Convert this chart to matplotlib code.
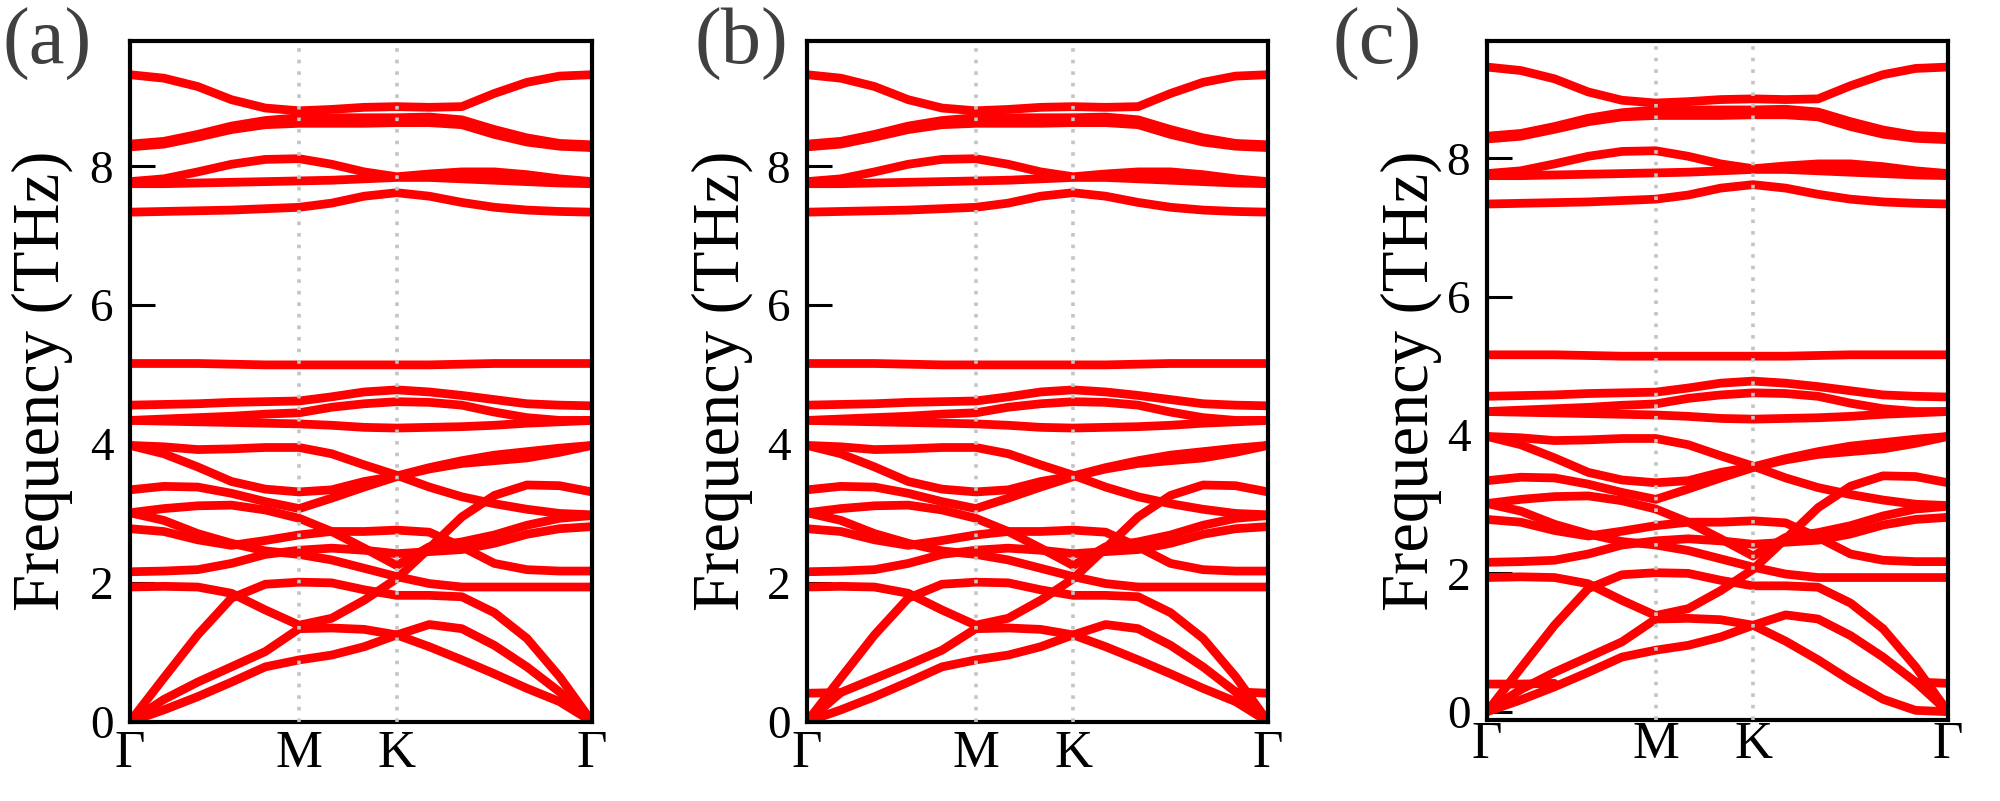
import numpy as np
import matplotlib
matplotlib.use("Agg")
import matplotlib.pyplot as plt
from matplotlib import font_manager

_avail = {f.name for f in font_manager.fontManager.ttflist}
_serif = [n for n in ['Liberation Serif', 'Nimbus Roman', 'Times New Roman', 'STIXGeneral',
                      'DejaVu Serif'] if n in _avail]
plt.rcParams['font.family'] = _serif[:1] + ['STIXGeneral', 'DejaVu Sans']
plt.rcParams['mathtext.fontset'] = 'stix'

# ---------------- high-symmetry path ----------------
k_labels = ['Γ', 'M', 'K', 'Γ']
k_nodes = [0.0, 0.5774, 0.9107, 1.5774]
seg_intervals = [5, 3, 6]          # sampling intervals on Γ-M, M-K, K-Γ
y_ticks = [0, 2, 4, 6, 8]
panel_tags = ['(a)', '(b)', '(c)']
panel_ylims = [(0, 9.81), (0, 9.81), (-0.12, 9.70)]

nan = np.nan
# each band: [Γ, 4 pts Γ-M, M, 2 pts M-K, K, 5 pts K-Γ, Γ]   (THz)
H1  = [9.32, 9.27, 9.15, 8.96, 8.84, 8.80, 8.82, 8.85, 8.86, 8.85, 8.86, 9.05, 9.21, 9.30, 9.32]
H2a = [8.32, 8.36, 8.46, 8.58, 8.66, 8.70, 8.70, 8.70, 8.70, 8.71, 8.67, 8.53, 8.41, 8.33, 8.31]
H2b = [8.28, 8.32, 8.42, 8.53, 8.60, 8.62, 8.62, 8.62, 8.63, 8.63, 8.60, 8.46, 8.35, 8.29, 8.27]
H3  = [7.78, 7.82, 7.92, 8.03, 8.10, 8.11, 8.03, 7.92, 7.85, 7.89, 7.92, 7.92, 7.88, 7.82, 7.78]
H4  = [7.75, 7.75, 7.76, 7.77, 7.78, 7.79, 7.80, 7.82, 7.84, 7.84, 7.82, 7.80, 7.78, 7.76, 7.75]
H5  = [7.34, 7.35, 7.36, 7.37, 7.39, 7.41, 7.47, 7.57, 7.62, 7.57, 7.48, 7.41, 7.37, 7.35, 7.34]
F1  = [5.16, 5.16, 5.16, 5.15, 5.14, 5.14, 5.14, 5.14, 5.14, 5.14, 5.15, 5.16, 5.16, 5.16, 5.16]
M1  = [4.56, 4.57, 4.58, 4.60, 4.61, 4.62, 4.68, 4.75, 4.78, 4.75, 4.70, 4.64, 4.58, 4.56, 4.55]
M2  = [4.34, 4.36, 4.38, 4.40, 4.43, 4.45, 4.53, 4.58, 4.61, 4.60, 4.56, 4.46, 4.38, 4.34, 4.34]
M3  = [4.34, 4.33, 4.32, 4.31, 4.30, 4.29, 4.27, 4.24, 4.23, 4.24, 4.25, 4.27, 4.30, 4.32, 4.34]
L1  = [3.98, 3.96, 3.92, 3.93, 3.95, 3.95, 3.86, 3.70, 3.55, 3.38, 3.24, 3.14, 3.06, 3.00, 2.98]
L2  = [3.98, 3.86, 3.67, 3.46, 3.35, 3.31, 3.34, 3.46, 3.54, 3.66, 3.76, 3.84, 3.89, 3.94, 3.98]
L3  = [3.34, 3.39, 3.38, 3.29, 3.17, 3.07, 3.22, 3.38, 3.53, 3.64, 3.72, 3.76, 3.80, 3.88, 3.98]
L4  = [3.01, 3.07, 3.11, 3.12, 3.05, 2.93, 2.74, 2.50, 2.25, 2.52, 2.59, 2.69, 2.83, 2.93, 2.97]
L5  = [3.01, 2.90, 2.71, 2.57, 2.46, 2.41, 2.33, 2.21, 2.09, 1.99, 1.94, 1.94, 1.94, 1.94, 1.94]
L6  = [2.78, 2.74, 2.62, 2.54, 2.61, 2.69, 2.74, 2.74, 2.76, 2.73, 2.52, 2.28, 2.19, 2.17, 2.17]
L7  = [2.16, 2.17, 2.19, 2.28, 2.41, 2.47, 2.50, 2.47, 2.42, 2.45, 2.48, 2.57, 2.70, 2.78, 2.81]
L8  = [1.94, 1.95, 1.94, 1.85, 1.61, 1.39, 1.49, 1.75, 2.06, 2.50, 2.95, 3.26, 3.41, 3.40, 3.31]
LA  = [0.00, 0.63, 1.25, 1.78, 1.98, 2.01, 2.00, 1.90, 1.82, 1.82, 1.80, 1.57, 1.20, 0.65, 0.00]
TA1 = [0.00, 0.32, 0.57, 0.79, 1.01, 1.34, 1.35, 1.33, 1.25, 1.08, 0.89, 0.69, 0.48, 0.29, 0.00]
TA2 = [0.00, 0.17, 0.36, 0.57, 0.79, 0.89, 0.96, 1.08, 1.25, 1.40, 1.34, 1.10, 0.79, 0.43, 0.00]

# panel-specific low-frequency branches
TA1_b = [0.00, 0.42, 0.62, 0.82, 1.03, 1.34, 1.35, 1.33, 1.25, 1.08, 0.89, 0.69, 0.48, 0.29, 0.00]
TA1_c = [0.00, 0.32, 0.57, 0.79, 1.01, 1.34, 1.35, 1.33, 1.25, 1.02, 0.75, 0.45, 0.18, 0.02, 0.00]
E_b = [0.41, 0.42, nan, nan, nan, nan, nan, nan, nan, nan, nan, nan, nan, 0.43, 0.41]
E_c = [0.40, 0.40, 0.41, nan, nan, nan, nan, nan, nan, nan, nan, nan, nan, 0.43, 0.41]

common = [H1, H2a, H2b, H3, H4, H5, F1, M1, M2, M3, L1, L2, L3, L4, L5, L6, L7, L8, LA]
bands_a = common + [TA1, TA2]
bands_b = common + [TA1_b, TA2, E_b]
bands_c = common + [TA1_c, TA2, E_c]
panel_bands = [bands_a, bands_b, bands_c]

# k grid from the path
kgrid = [k_nodes[0]]
for i, n in enumerate(seg_intervals):
    kgrid += list(np.linspace(k_nodes[i], k_nodes[i + 1], n + 1)[1:])
kgrid = np.array(kgrid)

# ---------------- figure ----------------
fig = plt.figure(figsize=(20, 8.01), dpi=100)
ax_rects = [
    [0.065, 0.099, 0.231, 0.8502],
    [0.4035, 0.099, 0.2305, 0.8502],
    [0.7435, 0.1011, 0.2305, 0.848],
]
ylabel_x = [0.021, 0.361, 0.7055]
tag_x = [0.001, 0.347, 0.666]
xpad = [6, 6, 1]

for i in range(3):
    ax = fig.add_axes(ax_rects[i])
    for b in panel_bands[i]:
        ax.plot(kgrid, b, color='#ff0000', lw=6.3, solid_capstyle='round',
                solid_joinstyle='round', zorder=2)
    for kn in k_nodes[1:-1]:
        ax.axvline(kn, color='#c4c4c4', lw=2.6, ls=(0, (1, 2.2)), zorder=3)
    ax.set_xlim(k_nodes[0], k_nodes[-1])
    ax.set_ylim(*panel_ylims[i])
    ax.set_xticks(k_nodes)
    ax.set_xticklabels(k_labels, fontsize=38)
    ax.set_yticks(y_ticks)
    ax.set_yticklabels([str(t) for t in y_ticks], fontsize=34)
    ax.tick_params(axis='x', length=0, pad=xpad[i])
    ax.tick_params(axis='y', direction='in', length=18, width=2.2, pad=12)
    for s in ax.spines.values():
        s.set_linewidth(3)
    fig.text(ylabel_x[i], 0.524, 'Frequency (THz)', rotation=90, fontsize=48,
             ha='center', va='center')
    fig.text(tag_x[i], 0.945, panel_tags[i], fontsize=58, color='#404040',
             ha='left', va='center')

fig.savefig('out.png', dpi=100)
